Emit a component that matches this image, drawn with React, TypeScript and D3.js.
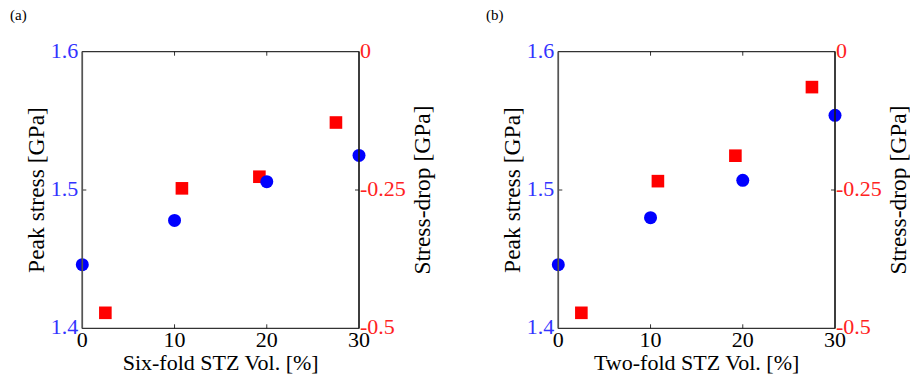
import React from "react";
import * as d3 from "d3";

const xTicks = [0, 10, 20, 30];
const leftTicks = [1.4, 1.5, 1.6];
const rightTicks = [-0.5, -0.25, 0];

const panelLabels = ["(a)", "(b)"];
const xLabels = ["Six-fold STZ Vol. [%]", "Two-fold STZ Vol. [%]"];

const blueX = [0, 10, 20, 30];
const blueA = [1.446, 1.478, 1.506, 1.525];
const blueB = [1.446, 1.48, 1.507, 1.554];

const redX = [2.5, 10.8, 19.2, 27.5];
const redA = [-0.472, -0.247, -0.226, -0.128];
const redB = [-0.472, -0.234, -0.188, -0.064];

const FS = 22;

function renderPanel(ox: number, label: string, xLabel: string, blue: number[], red: number[]) {
  const left = 82.3 + ox, right = 359 + ox, top = 51.7, bottom = 328.3;
  const x = d3.scaleLinear().domain([0, 30]).range([left, right]);
  const yL = d3.scaleLinear().domain([1.4, 1.6]).range([bottom, top]);
  const yR = d3.scaleLinear().domain([-0.5, 0]).range([bottom, top]);
  const tl = 4;
  const fmtL = (v: number) => v.toFixed(1);
  const fmtR = (v: number) => (v === 0 ? "0" : String(v));
  return (
    <g key={label}>
      <text x={ox + 10} y={20} fontSize={15}>{label}</text>
      {xTicks.slice(1, -1).map((t) => (
        <g key={"xt" + t}>
          <line x1={x(t)} x2={x(t)} y1={bottom} y2={bottom - tl} stroke="#000" strokeWidth={0.8} />
          <line x1={x(t)} x2={x(t)} y1={top} y2={top + tl} stroke="#000" strokeWidth={0.8} />
        </g>
      ))}
      {leftTicks.slice(1, -1).map((t) => (
        <line key={"lt" + t} x1={left} x2={left + tl} y1={yL(t)} y2={yL(t)} stroke="#000" strokeWidth={0.8} />
      ))}
      {rightTicks.slice(1, -1).map((t) => (
        <line key={"rt" + t} x1={right} x2={right - tl} y1={yR(t)} y2={yR(t)} stroke="#000" strokeWidth={0.8} />
      ))}
      {red.map((v, i) => (
        <rect key={"r" + i} x={x(redX[i]) - 6.3} y={yR(v) - 6.3} width={12.6} height={12.6} fill="#ff0000" />
      ))}
      {blue.map((v, i) => (
        <circle key={"b" + i} cx={x(blueX[i])} cy={yL(v)} r={6.5} fill="#0000ff" />
      ))}
      <rect x={left} y={top} width={right - left} height={bottom - top} fill="none" stroke="#000" strokeWidth={1} />
      <line x1={left} x2={left} y1={top} y2={bottom} stroke="#555" strokeWidth={1.6} />
      <line x1={right} x2={right} y1={top} y2={bottom} stroke="#222" strokeWidth={1.4} />
      {xTicks.map((t) => (
        <text key={"xl" + t} x={x(t)} y={347} textAnchor="middle" fontSize={FS}>{String(t)}</text>
      ))}
      {leftTicks.map((t) => (
        <text key={"ll" + t} x={left - 4} y={yL(t) + 6} textAnchor="end" fontSize={FS} fill="#3333ff">{fmtL(t)}</text>
      ))}
      {rightTicks.map((t) => (
        <text key={"rl" + t} x={right + 1} y={yR(t) + 6} textAnchor="start" fontSize={FS} fill="#ff2222">{fmtR(t)}</text>
      ))}
      <text x={(left + right) / 2} y={370} textAnchor="middle" fontSize={FS}>{xLabel}</text>
      <text transform={`translate(${ox + 44},${(top + bottom) / 2}) rotate(-90)`} textAnchor="middle" fontSize={23.5}>Peak stress [GPa]</text>
      <text transform={`translate(${ox + 430},${(top + bottom) / 2}) rotate(-90)`} textAnchor="middle" fontSize={23.5}>Stress-drop [GPa]</text>
    </g>
  );
}

export default function App() {
  return (
    <svg width={910} height={380} fontFamily="Liberation Serif, Times New Roman, serif" style={{ display: "block", position: "absolute", left: 0, top: 0 }}>
      <rect width={910} height={380} fill="#fff" />
      {renderPanel(0, panelLabels[0], xLabels[0], blueA, redA)}
      {renderPanel(476, panelLabels[1], xLabels[1], blueB, redB)}
    </svg>
  );
}
